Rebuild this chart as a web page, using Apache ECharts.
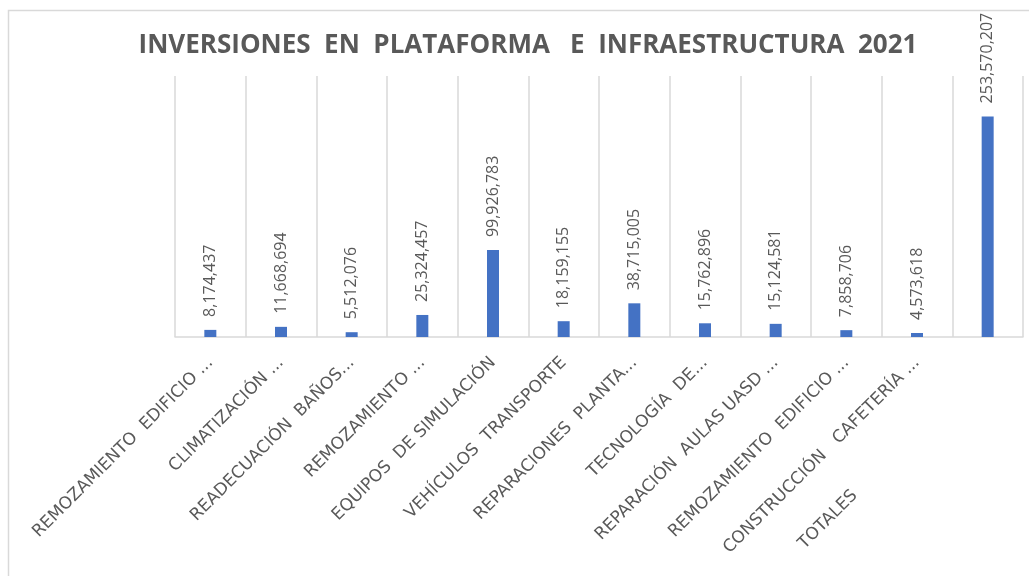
<!DOCTYPE html>
<html>
<head>
<meta charset="utf-8">
<title>Inversiones en plataforma e infraestructura 2021</title>
<script src="https://cdn.jsdelivr.net/npm/echarts@6/dist/echarts.min.js"></script>
<style>
	html, body { margin:0; padding:0; background:#fff; }
	#main { width:1029px; height:576px; }
</style>
</head>
<body>
<div id="main"></div>
<script type="text/javascript">

	// categorias y montos (RD$)
	var categorias = [
		'REMOZAMIENTO  EDIFICIO ...',
		'CLIMATIZACIÓN ...',
		'READECUACIÓN  BAÑOS...',
		'REMOZAMIENTO ...',
		'EQUIPOS  DE SIMULACIÓN',
		'VEHÍCULOS  TRANSPORTE',
		'REPARACIONES  PLANTA...',
		'TECNOLOGÍA  DE...',
		'REPARACIÓN  AULAS UASD ...',
		'REMOZAMIENTO  EDIFICIO ...',
		'CONSTRUCCIÓN   CAFETERÍA ...',
		'TOTALES'
	];
	var montos = [8174437, 11668694, 5512076, 25324457, 99926783, 18159155,
		38715005, 15762896, 15124581, 7858706, 4573618, 253570207];

	var gris = '#595959';
	var linea = '#d9d9d9';

	var chart = echarts.init(document.getElementById('main'));
	chart.setOption({
		animation: false,
		title: {
			text: 'INVERSIONES  EN  PLATAFORMA   E  INFRAESTRUCTURA  2021',
			left: 523,
			textAlign: 'center',
			top: 28,
			textStyle: {
				color: gris,
				fontFamily: 'Open Sans',
				fontWeight: 'bold',
				fontSize: 26
			}
		},
		graphic: [{
			type: 'rect',
			shape: { x: 8.5, y: 10.5, width: 1100, height: 700 },
			style: { fill: null, stroke: linea, lineWidth: 1.5 },
			silent: true
		}],
		grid: { left: 175, right: 6, top: 76, bottom: 239 },
		xAxis: {
			type: 'category',
			data: categorias,
			axisLine: { lineStyle: { color: linea, width: 1.5 } },
			axisTick: { show: false },
			splitLine: { show: true, lineStyle: { color: linea, width: 1.5 } },
			axisLabel: {
				rotate: 45,
				interval: 0,
				margin: 23,
				color: gris,
				fontFamily: 'DejaVu Sans',
				fontSize: 17,
				// en el original la etiqueta del total queda desplazada hacia abajo
				formatter: function (v, i) {
					return i === categorias.length - 1 ? '{t|' + v + '}' : v;
				},
				rich: {
					t: {
						color: gris,
						fontFamily: 'DejaVu Sans',
						fontSize: 17,
						padding: [0, 188, 0, 0]
					}
				}
			}
		},
		yAxis: {
			type: 'value',
			min: 0,
			max: 300000000,
			show: false,
			splitLine: { show: false }
		},
		series: [{
			type: 'bar',
			data: montos,
			barWidth: 12,
			itemStyle: { color: '#4472c4' },
			label: {
				show: true,
				position: 'top',
				rotate: 90,
				align: 'left',
				verticalAlign: 'middle',
				distance: 13,
				color: gris,
				fontFamily: 'Open Sans',
				fontSize: 16,
				formatter: function (p) {
					return p.value.toLocaleString('en-US');
				}
			}
		}]
	});

</script>
</body>
</html>
